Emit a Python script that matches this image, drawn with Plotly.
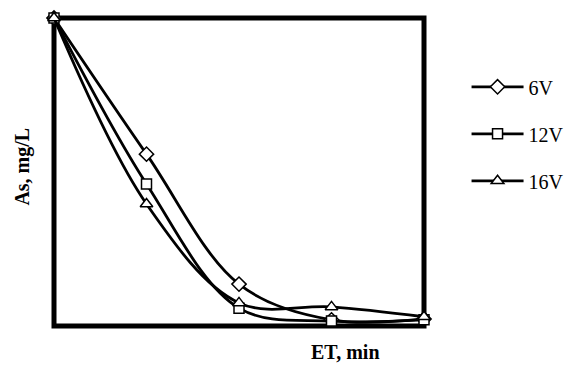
import plotly.graph_objects as go

time_min = [0, 10, 20, 30, 40]
series_names = ["6V", "12V", "16V"]
as_6v = [1.0, 0.558, 0.136, 0.020, 0.023]
as_12v = [1.0, 0.461, 0.058, 0.016, 0.020]
as_16v = [1.0, 0.396, 0.075, 0.062, 0.030]
symbols = ["diamond", "square", "triangle-up"]
sizes = [11, 10, 11]

fig = go.Figure()
for name, ys, sym, sz in zip(series_names, [as_6v, as_12v, as_16v], symbols, sizes):
    fig.add_trace(go.Scatter(
        x=time_min, y=ys, name=name, mode="lines+markers",
        line=dict(color="black", width=2.8, shape="spline", smoothing=1.0),
        marker=dict(symbol=sym, size=sz, color="white",
                    line=dict(color="black", width=1.5)),
        cliponaxis=False, legendgroup=name,
    ))

fig.update_layout(
    width=580, height=373,
    margin=dict(l=54, r=150, t=18, b=47),
    paper_bgcolor="white", plot_bgcolor="white",
    font=dict(family="Liberation Serif", color="black"),
    showlegend=True,
    legend=dict(x=1.115, y=0.84, xanchor="left", yanchor="top",
                font=dict(size=20, family="Liberation Serif"),
                tracegroupgap=18, itemwidth=52, bgcolor="rgba(0,0,0,0)"),
    xaxis=dict(range=[0, 40], showgrid=False, zeroline=False, showticklabels=False,
               ticks="", showline=False),
    yaxis=dict(range=[0, 1], showgrid=False, zeroline=False, showticklabels=False,
               ticks="", showline=False),
    shapes=[dict(type="rect", xref="paper", yref="paper", x0=0, x1=1, y0=0, y1=1,
                 line=dict(color="black", width=5), layer="below")],
    annotations=[
        dict(text="<b>ET, min</b>", xref="paper", yref="paper", x=0.787, y=-0.084,
             xanchor="center", yanchor="middle", showarrow=False,
             font=dict(size=20, family="Liberation Serif")),
        dict(text="<b>As, mg/L</b>", xref="paper", yref="paper", x=-0.085, y=0.516,
             xanchor="center", yanchor="middle", showarrow=False, textangle=-90,
             font=dict(size=20, family="Liberation Serif")),
    ],
)
fig.write_html("out.html", config={"displayModeBar": False},
               post_script="document.body.style.margin='0';")
